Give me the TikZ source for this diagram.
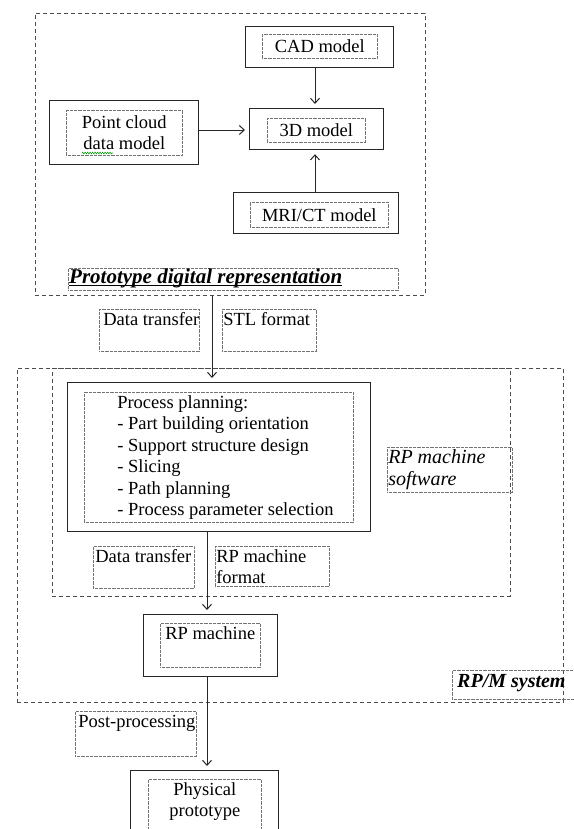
\documentclass[tikz,border=0pt]{standalone}
\usepackage{fontspec}
\setmainfont{Liberation Serif}
\usetikzlibrary{arrows.meta,decorations.pathmorphing}

% text block of fixed size, top aligned: width, height, left indent, text
\newcommand\lbox[4]{\parbox[c][#2][t]{#1}{\raggedright\leftskip=#3\relax\rule{0pt}{16bp}#4}}
% same, centred lines
\newcommand\cbox[3]{\parbox[c][#2][t]{#1}{\centering\rule{0pt}{16bp}#3}}

\begin{document}
\begin{tikzpicture}[x=1bp,y=-1bp,
  font=\fontsize{18.5bp}{21.5bp}\selectfont,
  solidbox/.style={draw=black!85, line width=1.2bp, anchor=north west, inner sep=0},
  dashbox/.style={draw=black!70, line width=0.9bp, dash pattern=on 4bp off 3bp, anchor=north west, inner sep=0},
  dotbox/.style={draw=black!55, line width=0.6bp, dash pattern=on 0.6bp off 0.7bp, anchor=north west, inner sep=0},
  arr/.style={draw=black!85, line width=1bp, -{Straight Barb[length=5bp,width=9bp]}, shorten >=4bp},
  bfit/.style={font=\fontsize{21bp}{24bp}\selectfont\bfseries\itshape, inner sep=0, anchor=base west},
]
\useasboundingbox (0,0) rectangle (574,829);
\clip (0,0) rectangle (574,829);

% ---------- prototype digital representation ----------
\node[dashbox, minimum width=390bp, minimum height=282bp] (proto) at (35,13) {};

\node[solidbox, minimum width=148bp, minimum height=41bp] (cad) at (245,26) {};
\node[dotbox, minimum width=115bp, minimum height=24bp] (cadt) at (262,34) {CAD model};

\node[solidbox, minimum width=134bp, minimum height=41bp] (tdm) at (249,108) {};
\node[dotbox, minimum width=98bp, minimum height=24bp] (tdmt) at (267,118) {3D model};

\node[solidbox, minimum width=149bp, minimum height=64bp] (pcd) at (49,100) {};
\node[dotbox, minimum width=116bp, minimum height=45bp, align=center] (pcdt) at (66,110) {Point cloud\\data model};

\node[solidbox, minimum width=165bp, minimum height=41bp] (mri) at (233,192) {};
\node[dotbox, minimum width=138bp, minimum height=25bp] (mrit) at (250,202) {MRI/CT model};

\node[dotbox, minimum width=330bp, minimum height=22bp] (plbl) at (68,268) {};
\node[bfit] (ptxt) at (69,283) {Prototype digital representation};
\draw[line width=1bp] ([yshift=-2bp]ptxt.base west) -- ([yshift=-2bp]ptxt.base east);

% spelling mark under "data"
\draw[green!60!black, line width=0.6bp, decorate,
  decoration={zigzag, segment length=2.5bp, amplitude=0.8bp}] (82,153) -- (113,153);

\coordinate (cx) at (315,0);
\coordinate (cy) at (0,130);
\draw[arr] (cx |- cad.south) -- (cx |- tdm.north);
\draw[arr] (cx |- mri.north) -- (cx |- tdm.south);
\draw[arr] (pcd.east |- cy) -- (tdm.west |- cy);

% ---------- transfer to the RP/M system ----------
\node[dotbox] (dt1) at (99,309) {\lbox{100bp}{42bp}{4bp}{Data transfer}};
\node[dotbox] (stl) at (222,309) {\lbox{94bp}{42bp}{1bp}{STL format}};

% ---------- RP/M system ----------
\node[dashbox, minimum width=546bp, minimum height=334bp] (rpm) at (17,368) {};
\node[dashbox, minimum width=458bp, minimum height=228bp] (sw) at (52,368) {};

\node[solidbox, minimum width=303bp, minimum height=149bp] (pp) at (67,382) {};
\node[dotbox] (ppt) at (84,392) {\lbox{269bp}{130bp}{33bp}{Process planning:\\
  - Part building orientation\\
  - Support structure design\\
  - Slicing\\
  - Path planning\\
  - Process parameter selection}};

\node[dotbox] (swl) at (387,447) {\lbox{125bp}{45bp}{1bp}{\fontsize{20bp}{22bp}\selectfont\itshape RP machine\\software}};

\node[dotbox] (dt2) at (93,546) {\lbox{101bp}{42bp}{2bp}{Data transfer}};
\node[dotbox] (fmt) at (215,546) {\lbox{114bp}{40bp}{1bp}{RP machine\\format}};

\node[solidbox, minimum width=134bp, minimum height=62bp] (mach) at (143,614) {};
\node[dotbox] (macht) at (160,623) {\cbox{100bp}{44bp}{RP machine}};

\node[dotbox, minimum width=140bp, minimum height=29bp] (rpml) at (452,670) {};
\node[bfit, font=\fontsize{20bp}{22bp}\selectfont\bfseries\itshape] (rpmtxt) at (457,687) {RP/M system};

% ---------- post-processing ----------
\node[dotbox] (post) at (75,711) {\lbox{121bp}{45bp}{3bp}{Post-processing}};

\node[solidbox, minimum width=148bp, minimum height=80bp] (phys) at (130,770) {};
\node[dotbox] (physt) at (148,779) {\cbox{113bp}{70bp}{Physical\\prototype}};

% ---------- main flow ----------
\coordinate (fa) at (212,0);
\coordinate (fb) at (207,0);
\draw[arr] (fa |- proto.south) -- (fa |- pp.north);
\draw[arr] (fb |- pp.south) -- (fb |- mach.north);
\draw[arr] (fb |- mach.south) -- (fb |- phys.north);
\end{tikzpicture}
\end{document}
